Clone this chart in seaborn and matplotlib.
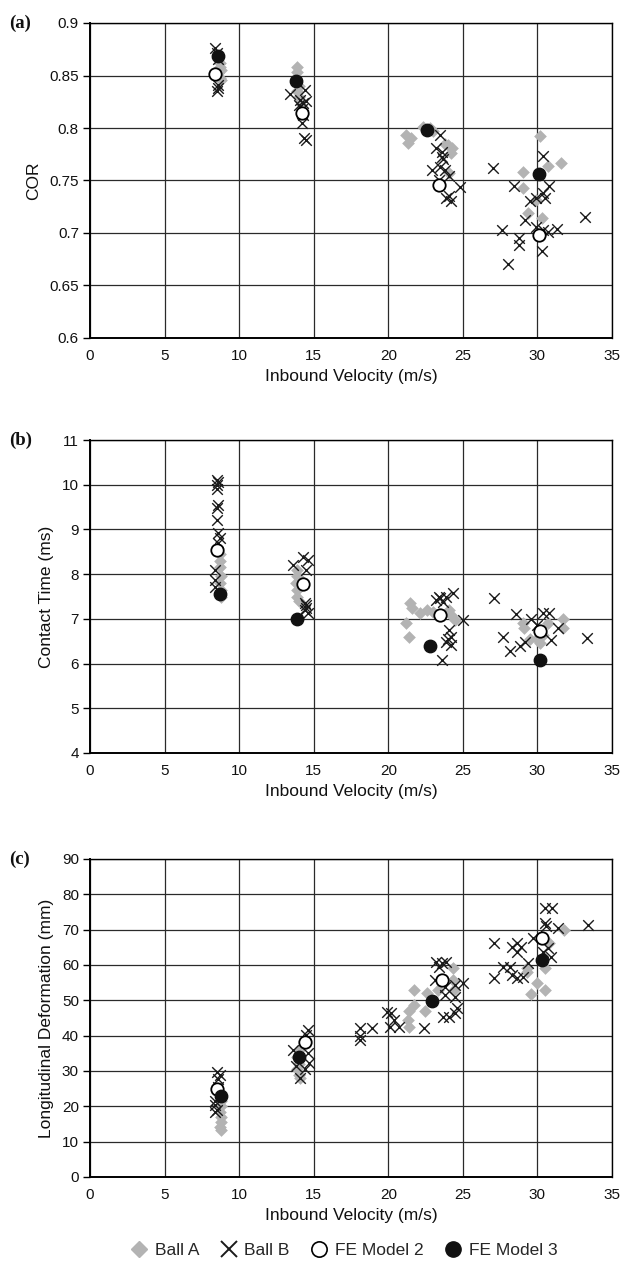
import matplotlib
matplotlib.use("Agg")
import matplotlib.pyplot as plt
import seaborn as sns
import pandas as pd
from matplotlib.lines import Line2D

# ---------------- data ----------------
# Panel (a) COR
a_ballA_v = [8.7, 8.7, 8.8, 8.6, 8.7, 8.8,
             13.9, 13.9, 13.8, 14.0, 13.9, 14.0, 14.1,
             21.2, 21.3, 21.5, 22.3, 22.8, 23.0, 24.0, 24.3, 24.2, 24.1, 23.8,
             30.2, 31.6, 30.7, 29.0, 29.0, 29.9, 29.4, 30.3]
a_ballA_y = [0.862, 0.858, 0.855, 0.852, 0.848, 0.846,
             0.858, 0.853, 0.848, 0.840, 0.835, 0.830, 0.826,
             0.793, 0.786, 0.790, 0.801, 0.800, 0.797, 0.784, 0.781, 0.776, 0.757, 0.785,
             0.792, 0.767, 0.764, 0.758, 0.743, 0.731, 0.719, 0.714]
a_ballB_v = [8.4, 8.5, 8.6, 8.6, 8.5, 8.6,
             13.4, 14.4, 14.1, 14.3, 14.0, 14.2, 14.5, 14.2, 14.35, 14.5, 14.3,
             23.5, 23.2, 23.6, 23.7, 22.9, 23.5, 23.8, 24.1, 24.8, 24.1, 24.2, 23.9, 23.4, 23.6,
             27.0, 30.4, 28.4, 30.8, 30.4, 29.9, 30.5, 29.5, 29.2, 33.2, 27.6, 29.9, 30.7,
             31.3, 28.75, 28.75, 30.3, 28.0, 30.4]
a_ballB_y = [0.876, 0.871, 0.866, 0.841, 0.835, 0.838,
             0.832, 0.836, 0.827, 0.824, 0.822, 0.818, 0.826, 0.805, 0.790, 0.789, 0.812,
             0.793, 0.781, 0.777, 0.770, 0.760, 0.763, 0.760, 0.754, 0.744, 0.735, 0.730, 0.733, 0.750, 0.772,
             0.762, 0.773, 0.745, 0.745, 0.738, 0.733, 0.733, 0.730, 0.712, 0.715, 0.703, 0.706, 0.701,
             0.704, 0.695, 0.689, 0.683, 0.670, 0.703]
a_fe2_v = [8.4, 14.2, 23.4, 30.1]
a_fe2_y = [0.851, 0.814, 0.746, 0.698]
a_fe3_v = [8.6, 13.8, 22.6, 30.1]
a_fe3_y = [0.869, 0.845, 0.798, 0.756]

# Panel (b) Contact time
b_ballA_v = [8.7, 8.7, 8.7, 8.8, 8.7, 8.8, 8.8,
             13.85, 13.9, 13.8, 13.9, 13.85, 14.0, 14.1,
             21.45, 21.2, 21.4, 22.1, 22.6, 21.6, 24.1, 24.5, 24.2, 23.0,
             29.0, 29.1, 29.5, 30.2, 30.7, 31.7, 31.7, 30.4, 30.0]
b_ballA_y = [8.45, 8.3, 8.15, 7.95, 7.8, 7.65, 7.5,
             8.1, 7.95, 7.8, 7.65, 7.5, 7.4, 7.9,
             7.35, 6.9, 6.59, 7.13, 7.2, 7.25, 7.2, 6.97, 7.09, 7.15,
             6.9, 6.79, 6.56, 6.45, 6.9, 6.99, 6.79, 6.64, 6.55]
b_ballB_v = [8.5, 8.5, 8.6, 8.5, 8.6, 8.5, 8.5, 8.6, 8.7, 8.6, 8.4, 8.4, 8.4,
             14.3, 13.6, 14.6, 14.5, 14.4, 14.5, 14.6, 14.4, 14.5,
             23.5, 23.7, 23.2, 23.9, 24.35, 23.4, 25.0, 24.1, 24.2, 23.9, 24.2, 23.6, 24.0,
             27.1, 28.55, 29.6, 30.4, 30.8, 27.7, 28.15, 28.8, 29.15, 30.9, 31.4, 33.3, 30.0]
b_ballB_y = [10.1, 10.0, 10.05, 9.9, 9.55, 9.47, 9.2, 8.91, 8.8, 8.69, 8.1, 7.87, 7.71,
             8.39, 8.2, 8.32, 8.1, 7.35, 7.25, 7.13, 7.2, 7.3,
             7.46, 7.38, 7.42, 7.5, 7.57, 7.48, 6.97, 6.75, 6.6, 6.49, 6.41, 6.09, 6.55,
             7.47, 7.1, 6.99, 7.12, 7.12, 6.59, 6.29, 6.39, 6.49, 6.53, 6.79, 6.58, 6.86]
b_fe2_v = [8.5, 14.3, 23.5, 30.2]
b_fe2_y = [8.54, 7.77, 7.09, 6.73]
b_fe3_v = [8.7, 13.9, 22.8, 30.2]
b_fe3_y = [7.55, 6.99, 6.39, 6.09]

# Panel (c) Longitudinal deformation
c_ballA_v = [8.8, 8.8, 8.7, 8.8, 8.8, 8.7, 8.8,
             14.0, 13.9, 14.0, 13.9, 14.0, 14.1,
             21.7, 21.7, 21.4, 21.3, 21.4, 22.45, 22.6, 23.3, 24.35, 24.35, 24.4,
             31.8, 30.8, 29.3, 29.3, 30.5, 30.0, 30.5, 29.6]
c_ballA_y = [21.5, 20.0, 18.5, 17.0, 15.5, 14.2, 13.2,
             36.0, 34.0, 32.0, 30.5, 29.0, 28.0,
             52.9, 48.7, 47.1, 44.4, 42.5, 47.1, 52.0, 52.9, 59.1, 55.8, 52.9,
             69.9, 66.1, 59.1, 57.9, 59.1, 54.8, 52.9, 51.8]
c_ballB_v = [8.5, 8.7, 8.6, 8.4, 8.4, 8.5, 8.4, 8.6,
             14.6, 14.5, 13.6, 14.1, 14.7, 14.4, 14.6, 13.8,
             18.1, 18.9, 18.1, 18.1, 19.9, 20.2, 20.1, 20.7, 20.4, 22.4,
             23.2, 23.6, 23.9, 23.4, 23.1, 25.0, 23.8, 24.5, 23.8, 24.5, 24.6, 24.5, 23.7, 24.1,
             27.1, 27.1, 28.3, 28.6, 28.6, 28.9, 27.7, 28.15, 28.3, 28.6, 29.0, 29.4, 29.7,
             30.5, 31.0, 30.5, 30.6, 31.4, 33.4, 30.7, 30.9, 30.4]
c_ballB_y = [29.8, 28.9, 27.8, 21.5, 20.3, 19.0, 18.3, 25.5,
             41.6, 40.2, 35.9, 27.9, 32.3, 30.5, 35.0, 31.5,
             42.1, 42.1, 38.8, 40.0, 46.8, 46.3, 42.5, 42.5, 44.4, 42.1,
             60.9, 60.7, 60.9, 59.4, 55.8, 55.0, 53.9, 54.3, 51.5, 51.0, 47.7, 46.3, 45.4, 45.4,
             66.3, 56.2, 65.2, 66.1, 63.8, 65.2, 59.5, 59.5, 57.2, 56.2, 56.7, 60.5, 67.6,
             76.2, 76.2, 71.8, 71.0, 70.4, 71.3, 64.7, 62.4, 63.8]
c_fe2_v = [8.5, 14.4, 23.6, 30.3]
c_fe2_y = [24.8, 38.2, 55.8, 67.6]
c_fe3_v = [8.8, 14.0, 22.9, 30.3]
c_fe3_y = [23.0, 33.9, 49.8, 61.4]

series_names = ["Ball A", "Ball B", "FE Model 2", "FE Model 3"]
x_ticks = [0, 5, 10, 15, 20, 25, 30, 35]
x_label = "Inbound Velocity (m/s)"

panels = [
    dict(tag="(a)", ylabel="COR", ylim=(0.6, 0.9),
         yticks=[0.6, 0.65, 0.7, 0.75, 0.8, 0.85, 0.9],
         yticklabels=["0.6", "0.65", "0.7", "0.75", "0.8", "0.85", "0.9"],
         data=[(a_ballA_v, a_ballA_y), (a_ballB_v, a_ballB_y),
               (a_fe2_v, a_fe2_y), (a_fe3_v, a_fe3_y)]),
    dict(tag="(b)", ylabel="Contact Time (ms)", ylim=(4, 11),
         yticks=[4, 5, 6, 7, 8, 9, 10, 11],
         yticklabels=["4", "5", "6", "7", "8", "9", "10", "11"],
         data=[(b_ballA_v, b_ballA_y), (b_ballB_v, b_ballB_y),
               (b_fe2_v, b_fe2_y), (b_fe3_v, b_fe3_y)]),
    dict(tag="(c)", ylabel="Longitudinal Deformation (mm)", ylim=(0, 90),
         yticks=[0, 10, 20, 30, 40, 50, 60, 70, 80, 90],
         yticklabels=["0", "10", "20", "30", "40", "50", "60", "70", "80", "90"],
         data=[(c_ballA_v, c_ballA_y), (c_ballB_v, c_ballB_y),
               (c_fe2_v, c_fe2_y), (c_fe3_v, c_fe3_y)]),
]

# ---------------- style ----------------
sns.set_theme(style="white")
plt.rcParams["font.family"] = ["Liberation Sans", "DejaVu Sans"]

GRAY = "#b3b3b3"
styles = [
    dict(marker="D", color=GRAY, s=42, edgecolor=GRAY, linewidth=0, zorder=3),
    dict(marker="x", color="#1a1a1a", s=58, linewidth=1.0, zorder=4),
    dict(marker="o", color="white", s=80, edgecolor="black", linewidth=1.3, zorder=5),
    dict(marker="o", color="#111111", s=80, edgecolor="#111111", linewidth=1.0, zorder=6),
]

fig = plt.figure(figsize=(6.35, 12.71), dpi=100)
left, right = 90 / 635, 612 / 635
boxes = [(23, 338), (440, 753), (859, 1177)]
H = 1271

for p, (top_px, bot_px) in zip(panels, boxes):
    ax = fig.add_axes([left, 1 - bot_px / H, right - left, (bot_px - top_px) / H])
    for (vx, vy), st, name in zip(p["data"], styles, series_names):
        df = pd.DataFrame({"v": vx, "y": vy})
        sns.scatterplot(data=df, x="v", y="y", ax=ax, legend=False, **st)
    ax.set_xlim(0, 35)
    ax.set_ylim(*p["ylim"])
    ax.set_xticks(x_ticks)
    ax.set_xticklabels([str(t) for t in x_ticks])
    ax.set_yticks(p["yticks"])
    ax.set_yticklabels(p["yticklabels"])
    ax.grid(True, color="#2a2a2a", linewidth=0.9)
    ax.set_axisbelow(True)
    for side, sp in ax.spines.items():
        sp.set_color("black")
        sp.set_linewidth(1.0)
    ax.spines["left"].set_linewidth(1.4)
    ax.spines["bottom"].set_linewidth(1.4)
    ax.tick_params(axis="both", which="major", direction="out", length=5,
                   width=1.0, color="black", labelsize=11, labelcolor="#111111",
                   left=True, bottom=False, pad=3)
    ax.set_xlabel(x_label, fontsize=12.5, color="#111111", labelpad=4)
    ax.set_ylabel(p["ylabel"], fontsize=12.5, color="#111111", labelpad=6)
    ax.text(-0.155, 1.0, p["tag"], transform=ax.transAxes, ha="left", va="center",
            fontsize=13.5, fontweight="bold", family=["Liberation Serif", "DejaVu Serif"],
            color="#111111")

handles = [
    Line2D([], [], linestyle="none", marker="D", markersize=8, markerfacecolor=GRAY,
           markeredgecolor=GRAY),
    Line2D([], [], linestyle="none", marker="x", markersize=11, markeredgecolor="#1a1a1a",
           markeredgewidth=1.4),
    Line2D([], [], linestyle="none", marker="o", markersize=11, markerfacecolor="white",
           markeredgecolor="black", markeredgewidth=1.2),
    Line2D([], [], linestyle="none", marker="o", markersize=11, markerfacecolor="#111111",
           markeredgecolor="#111111"),
]
fig.legend(handles, series_names, loc="center", bbox_to_anchor=(0.54, 1 - 1250 / H),
           ncol=4, frameon=False, fontsize=12.5, handletextpad=0.3, columnspacing=1.1,
           handlelength=1.2)

fig.savefig("out.png", dpi=100)
